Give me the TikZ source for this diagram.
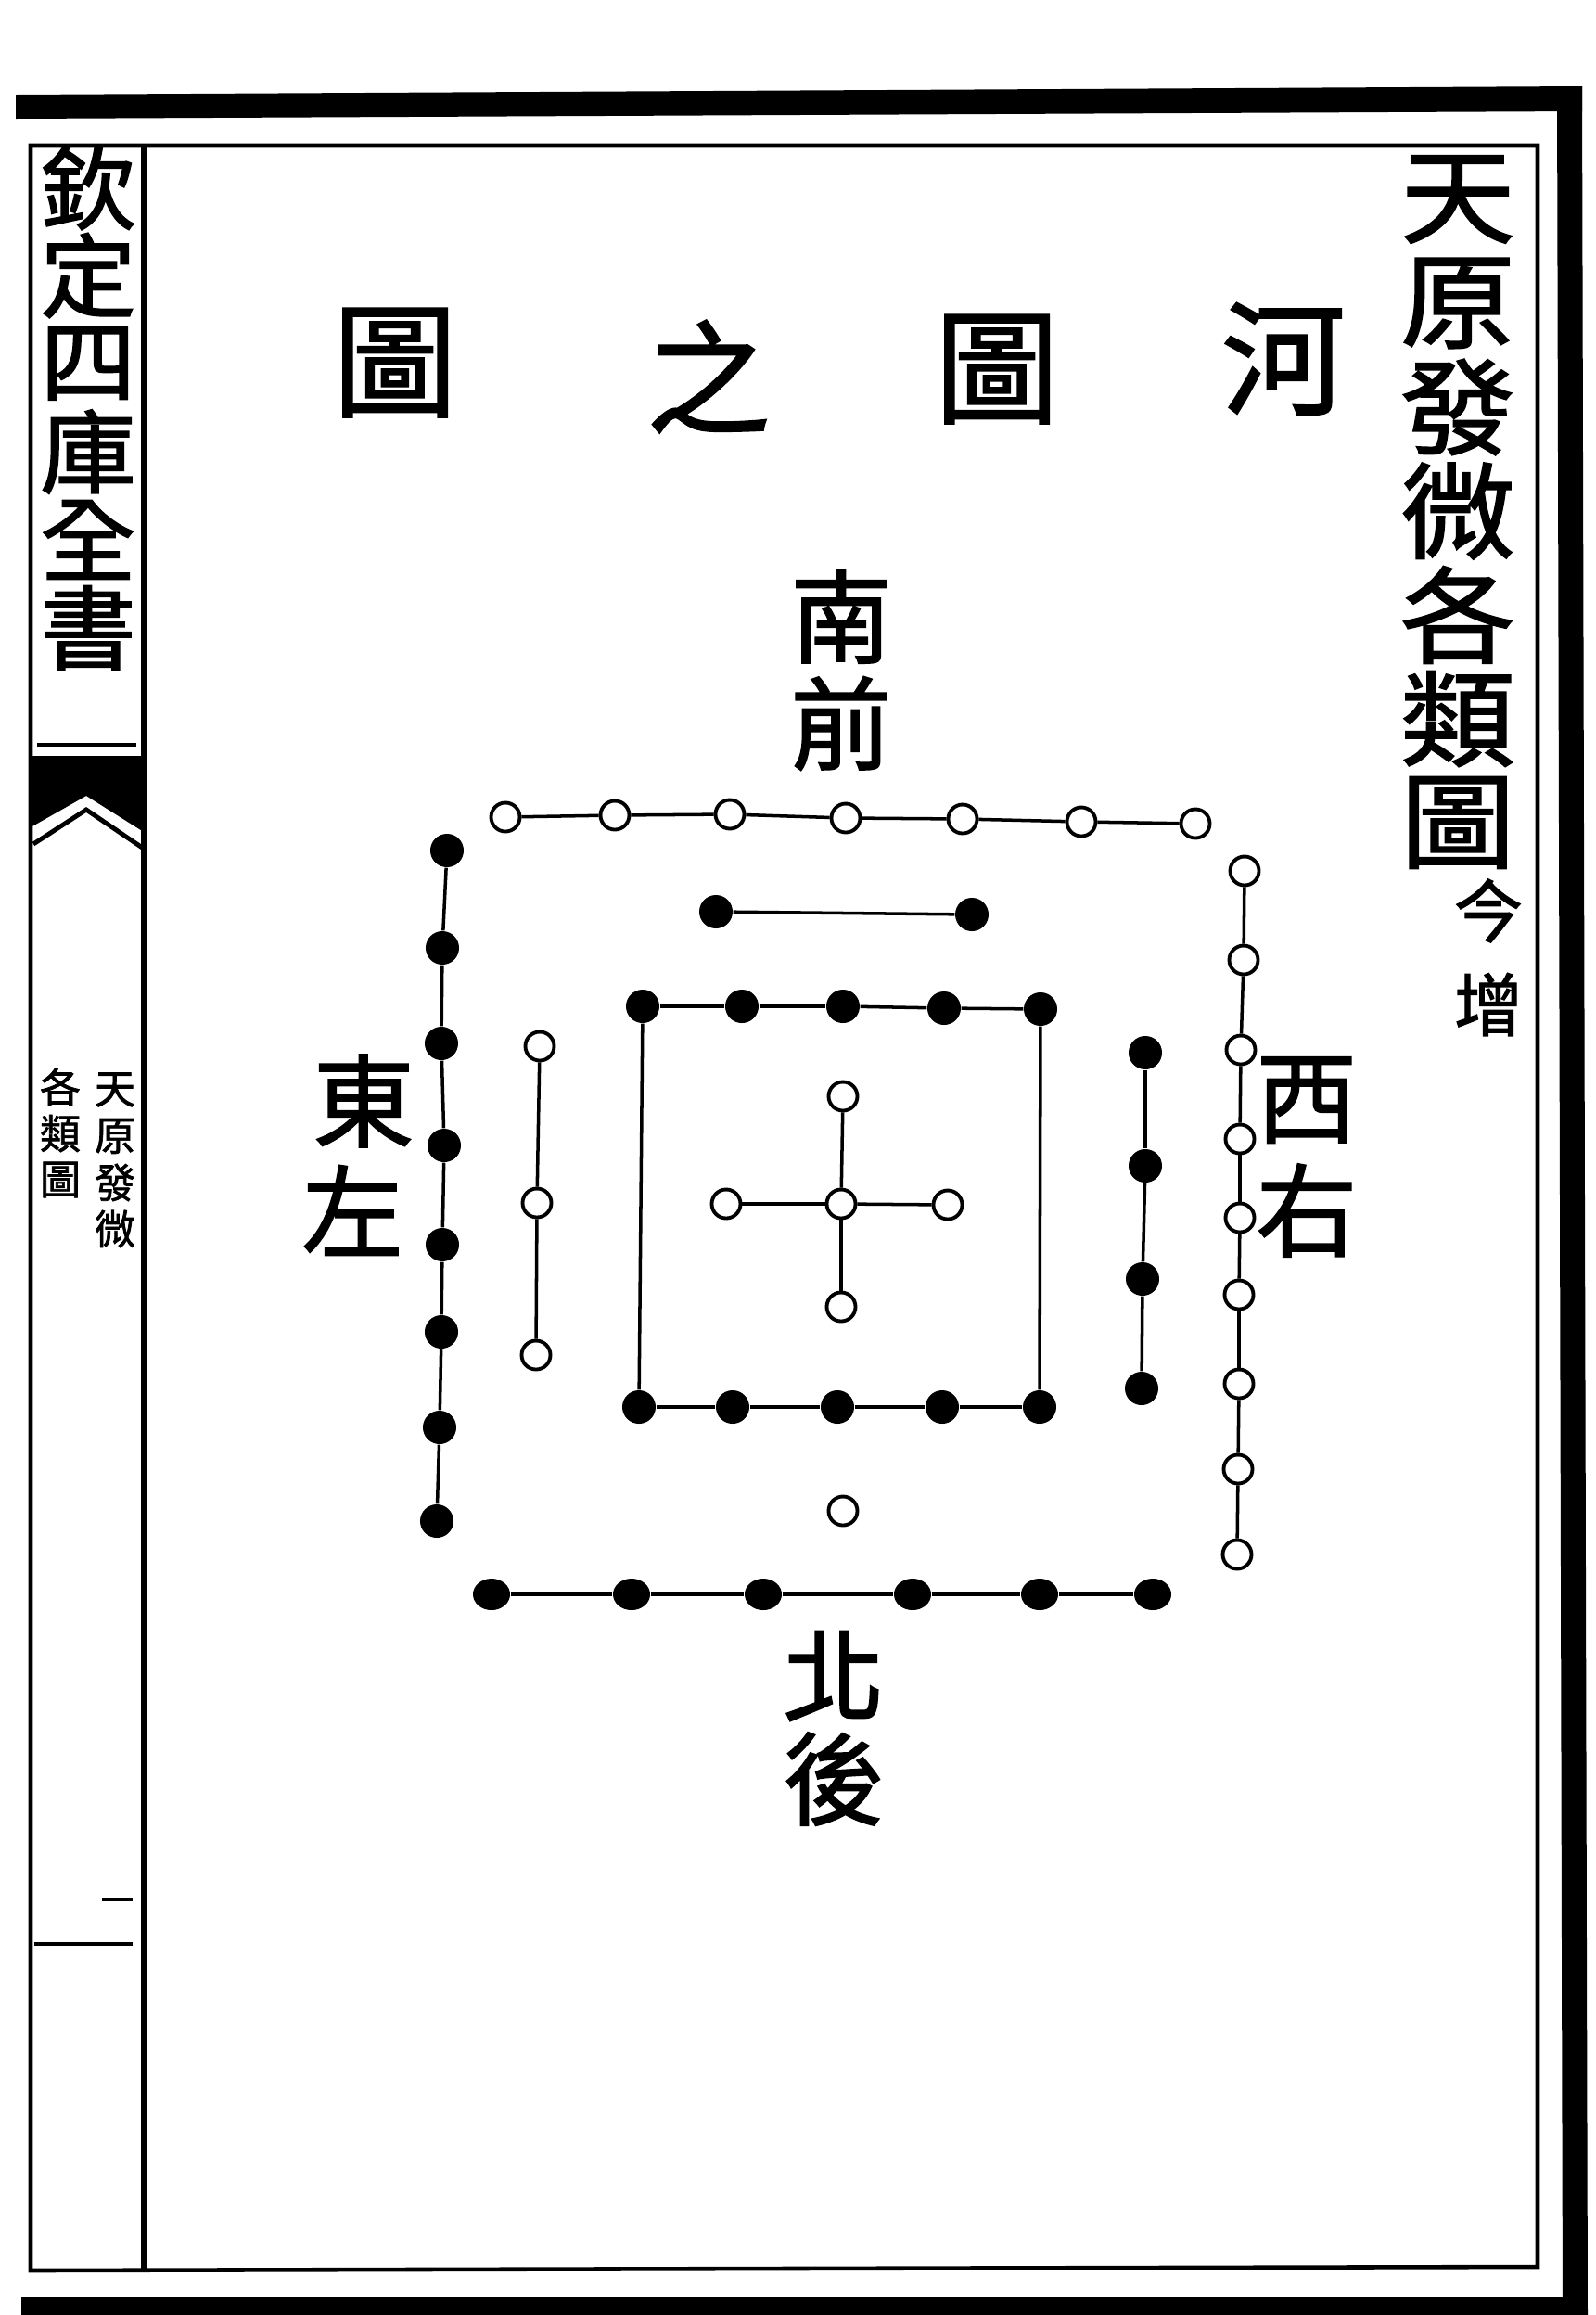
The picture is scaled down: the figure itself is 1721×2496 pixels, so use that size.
\documentclass[tikz,border=0pt]{standalone}
\usepackage{fontspec}
\newfontfamily\cjk{Noto Sans CJK TC}[FakeBold=1.6]
\usetikzlibrary{shapes.geometric}
\begin{document}
\begin{tikzpicture}[x=0.01cm,y=-0.01cm,
  wdot/.style={circle,draw=black,fill=white,line width=1.1pt,minimum size=0.31cm,inner sep=0pt},
  bdot/.style={circle,fill=black,minimum size=0.36cm,inner sep=0pt},
  bbig/.style={ellipse,fill=black,minimum width=0.40cm,minimum height=0.34cm,inner sep=0pt},
  link/.style={line width=1pt},
  rule/.style={line width=1.3pt},
  heavy/.style={fill=black},
  titlech/.style={font=\cjk\fontsize{38}{38}\selectfont,inner sep=0pt},
  sidech/.style={font=\cjk\fontsize{32}{32}\selectfont,inner sep=0pt,xscale=1.1},
  leftch/.style={font=\cjk\fontsize{28}{28}\selectfont,inner sep=0pt,xscale=1.05},
  dirch/.style={font=\cjk\fontsize{31}{31}\selectfont,inner sep=0pt},
  notech/.style={font=\cjk\fontsize{21}{21}\selectfont,inner sep=0pt},
  smallch/.style={font=\cjk\fontsize{12.5}{12.5}\selectfont,inner sep=0pt}
]
\useasboundingbox (0,0) rectangle (1721,2496);
% heavy outer frame
\fill[heavy] (17,102) -- (1706,93) -- (1706,120) -- (17,128) -- cycle;
\fill[heavy] (1679,93) -- (1706,93) -- (1712,2496) -- (1685,2496) -- cycle;
\fill[heavy] (23,2477) -- (1712,2477) -- (1712,2496) -- (23,2496) -- cycle;
% thin frame
\draw[rule] (33,157) -- (1658,157) -- (1658,2444) -- (33,2448) -- cycle;
\draw[line width=1.8pt] (155,157) -- (155,2448);
% left column decorations
\draw[rule] (40,803) -- (147,803);
\fill[heavy] (33,815) -- (155,815) -- (155,897) -- (93,858) -- (33,892) -- cycle;
\draw[line width=1.4pt] (36,910) -- (93,873) -- (155,915);
\draw[rule] (110,2048) -- (143,2048);
\draw[rule] (37,2096) -- (143,2096);
% left column texts
\foreach \c [count=\i] in {欽,定,四,庫,全,書}
  \node[leftch] (lt\i) at (95,{202+95*(\i-1)}) {\c};
\foreach \c [count=\i] in {天,原,發,微}
  \node[smallch] (la\i) at (124,{1175+50*(\i-1)}) {\c};
\foreach \c [count=\i] in {各,類,圖}
  \node[smallch] (lb\i) at (65,{1172+50*(\i-1)}) {\c};
% right column texts
\foreach \c [count=\i] in {天,原,發,微,各,類,圖}
  \node[sidech] (rt\i) at (1572,{215+112*(\i-1)}) {\c};
\node[notech] (jin) at (1605,982) {今};
\node[notech] (zeng) at (1605,1083) {增};
% title
\node[titlech] (t1) at (1384,387) {河};
\node[titlech] (t2) at (1075,398) {圖};
\node[titlech] (t3) at (764,406) {之};
\node[titlech] (t4) at (426,391) {圖};
% direction labels
\node[dirch] (nan) at (907,665) {南};
\node[dirch] (qian) at (907,780) {前};
\node[dirch] (bei) at (899,1807) {北};
\node[dirch] (hou) at (899,1918) {後};
\node[dirch] (dong) at (392,1187) {東};
\node[dirch] (zuo) at (380,1305) {左};
\node[dirch] (xi) at (1409,1186) {西};
\node[dirch] (you) at (1409,1305) {右};
% south: 7 white
\foreach \i/\x/\y in {1/545/881,2/663/879,3/787/878,4/912/882,5/1038/883,6/1166/886,7/1289/888}
  \node[wdot] (s\i) at (\x,\y) {};
\foreach \i in {1,...,6}{\pgfmathtruncatemacro\j{\i+1}\draw[link] (s\i) -- (s\j);}
% south: 2 black
\node[bdot] (p1) at (772,983) {};
\node[bdot] (p2) at (1048,986) {};
\draw[link] (p1) -- (p2);
% centre square: 10 black
\foreach \i/\x/\y in {1/693/1085,2/800/1085,3/909/1085,4/1018/1087,5/1122/1088}
  \node[bdot] (q\i) at (\x,\y) {};
\foreach \i/\x/\y in {1/689/1517,2/790/1517,3/903/1517,4/1016/1517,5/1121/1517}
  \node[bdot] (r\i) at (\x,\y) {};
\foreach \i in {1,...,4}{\pgfmathtruncatemacro\j{\i+1}\draw[link] (q\i) -- (q\j); \draw[link] (r\i) -- (r\j);}
\draw[link] (q1) -- (r1);
\draw[link] (q5) -- (r5);
% centre cross: 5 white
\node[wdot] (c0) at (907,1298) {};
\node[wdot] (cn) at (909,1182) {};
\node[wdot] (cw) at (783,1298) {};
\node[wdot] (ce) at (1022,1299) {};
\node[wdot] (cs) at (907,1409) {};
\foreach \k in {cn,cw,ce,cs} \draw[link] (c0) -- (\k);
% east: 3 white
\foreach \i/\x/\y in {1/582/1128,2/579/1297,3/578/1461}
  \node[wdot] (e\i) at (\x,\y) {};
\draw[link] (e1) -- (e2) -- (e3);
% east: 8 black
\foreach \i/\x/\y in {1/482/917,2/477/1022,3/476/1125,4/479/1235,5/477/1342,6/476/1436,7/474/1539,8/471/1640}
  \node[bdot] (f\i) at (\x,\y) {};
\foreach \i in {1,...,7}{\pgfmathtruncatemacro\j{\i+1}\draw[link] (f\i) -- (f\j);}
% west: 4 black
\foreach \i/\x/\y in {1/1235/1135,2/1235/1257,3/1232/1379,4/1231/1497}
  \node[bdot] (w\i) at (\x,\y) {};
\foreach \i in {1,...,3}{\pgfmathtruncatemacro\j{\i+1}\draw[link] (w\i) -- (w\j);}
% west: 9 white
\foreach \i/\x/\y in {1/1342/939,2/1341/1035,3/1338/1132,4/1337/1228,5/1337/1313,6/1336/1396,7/1336/1492,8/1335/1584,9/1334/1676}
  \node[wdot] (v\i) at (\x,\y) {};
\foreach \i in {1,...,8}{\pgfmathtruncatemacro\j{\i+1}\draw[link] (v\i) -- (v\j);}
% north: 1 white
\node[wdot] (n0) at (909,1629) {};
% north: 6 black
\foreach \i/\x/\y in {1/530/1719,2/681/1719,3/823/1719,4/984/1719,5/1121/1719,6/1243/1719}
  \node[bbig] (m\i) at (\x,\y) {};
\foreach \i in {1,...,5}{\pgfmathtruncatemacro\j{\i+1}\draw[link] (m\i) -- (m\j);}
\end{tikzpicture}
\end{document}
